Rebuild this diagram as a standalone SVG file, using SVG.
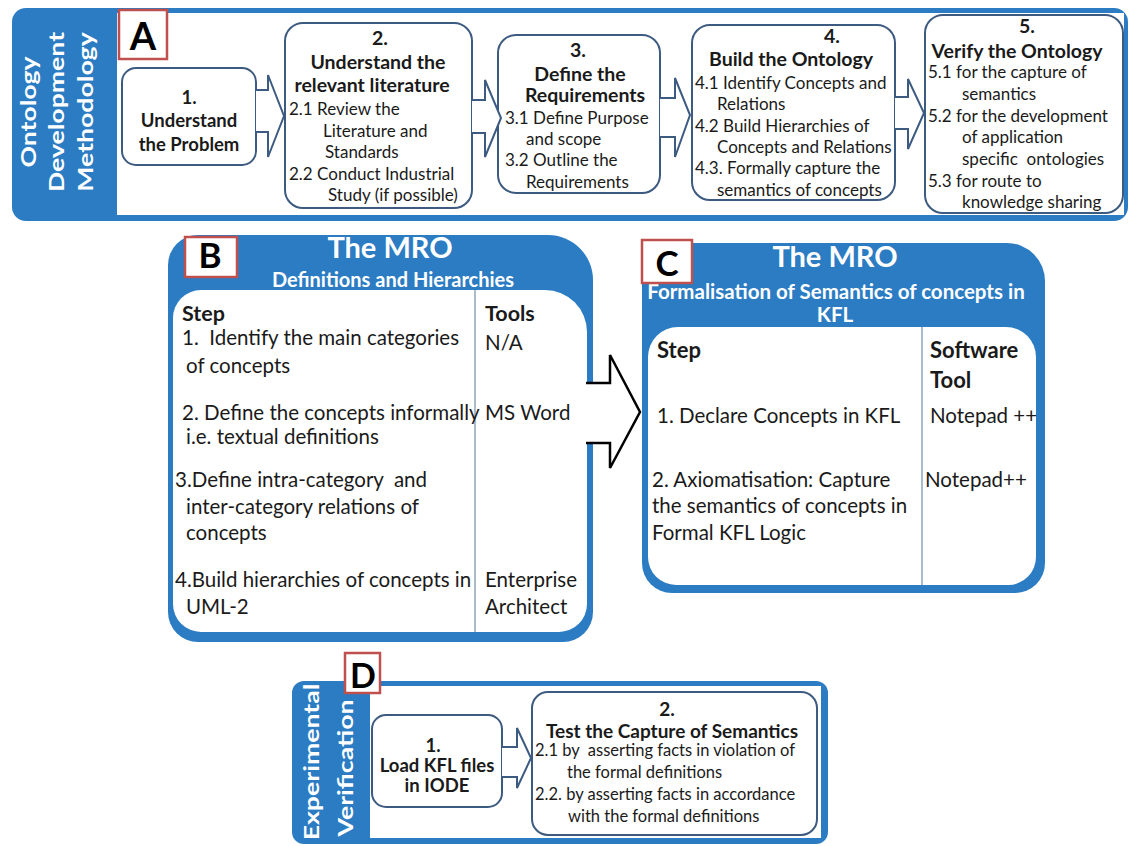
<svg xmlns="http://www.w3.org/2000/svg" width="1131" height="846" viewBox="0 0 1131 846">
<style>
text{font-family:Lato,"Open Sans","Liberation Sans",sans-serif;fill:#1a1a1a}
.blue{fill:#2b7cc3}
.white{fill:#ffffff}
.bx{fill:#ffffff;stroke:#3d5a80;stroke-width:2}
.ar{fill:#ffffff;stroke:#3d5a80;stroke-width:2;stroke-linejoin:miter}
.lbl{fill:#ffffff;stroke:#c0504d;stroke-width:2.5}
.lt{font-weight:700;text-anchor:middle;fill:#000}
.ttl{font-size:19.5px;font-weight:700;text-anchor:middle}
.sa{font-size:17px}
.sb{font-size:20.5px}
.hd{font-size:21.5px;font-weight:700}
.wh{fill:#ffffff;font-weight:700;text-anchor:middle}
.side{fill:#ffffff;font-weight:700;font-size:20.5px;text-anchor:middle}
.div{stroke:#8ea5be;stroke-width:1.5}
.sd{font-size:16.5px}
</style>
<rect width="1131" height="846" fill="#ffffff"/>

<!-- Panel A -->
<g id="panel-a">
  <rect class="blue" x="12" y="8" width="1116" height="213" rx="14"/>
  <rect class="white" x="117" y="13" width="1007" height="202"/>
  <g id="a-sidebar">
    <text class="side" transform="translate(36,112) rotate(-90) scale(1.3,1)">Ontology</text>
    <text class="side" transform="translate(64,112) rotate(-90) scale(1.3,1)">Development</text>
    <text class="side" transform="translate(93,112) rotate(-90) scale(1.3,1)">Methodology</text>
  </g>
  <g id="a-label">
    <rect class="lbl" x="119" y="10" width="48" height="49"/>
    <text class="lt" x="143" y="50" font-size="38">A</text>
  </g>
  <g id="a-step1">
    <rect class="bx" x="122" y="68" width="134" height="97" rx="14"/>
    <text class="ttl" x="189" y="104" style="font-size:18.5px">1.</text>
    <text class="ttl" x="189" y="127" style="font-size:18.5px">Understand</text>
    <text class="ttl" x="189" y="151" style="font-size:18.5px">the Problem</text>
  </g>
  <g id="a-step2">
    <rect class="bx" x="285" y="23" width="187" height="185" rx="18"/>
    <text class="ttl" x="380" y="45">2.</text>
    <text class="ttl" x="378" y="69">Understand the</text>
    <text class="ttl" x="372" y="92">relevant literature</text>
    <text class="sa" x="289" y="115">2.1 Review the</text>
    <text class="sa" x="323" y="137">Literature and</text>
    <text class="sa" x="325" y="158">Standards</text>
    <text class="sa" x="289" y="180">2.2 Conduct Industrial</text>
    <text class="sa" x="328" y="201">Study (if possible)</text>
  </g>
  <g id="a-step3">
    <rect class="bx" x="498" y="35" width="162" height="158" rx="18"/>
    <text class="ttl" x="578" y="57">3.</text>
    <text class="ttl" x="580" y="81">Define the</text>
    <text class="ttl" x="585" y="102">Requirements</text>
    <text class="sa" x="505" y="124">3.1 Define Purpose</text>
    <text class="sa" x="526" y="145">and scope</text>
    <text class="sa" x="505" y="166">3.2 Outline the</text>
    <text class="sa" x="526" y="188">Requirements</text>
  </g>
  <g id="a-step4">
    <rect class="bx" x="692" y="25" width="203" height="175" rx="18"/>
    <text class="ttl" x="832" y="43">4.</text>
    <text class="ttl" x="791" y="66">Build the Ontology</text>
    <text class="sa" x="695" y="89">4.1 Identify Concepts and</text>
    <text class="sa" x="717" y="110">Relations</text>
    <text class="sa" x="695" y="132">4.2 Build Hierarchies of</text>
    <text class="sa" x="717" y="153">Concepts and Relations</text>
    <text class="sa" x="695" y="174">4.3. Formally capture the</text>
    <text class="sa" x="717" y="196">semantics of concepts</text>
  </g>
  <g id="a-step5">
    <rect class="bx" x="925" y="15" width="198" height="198" rx="18"/>
    <text class="ttl" x="1027" y="33">5.</text>
    <text class="ttl" x="1017" y="58">Verify the Ontology</text>
    <text class="sa" x="928" y="78">5.1 for the capture of</text>
    <text class="sa" x="962" y="100">semantics</text>
    <text class="sa" x="928" y="122">5.2 for the development</text>
    <text class="sa" x="962" y="143">of application</text>
    <text class="sa" x="962" y="165" xml:space="preserve">specific  ontologies</text>
    <text class="sa" x="928" y="187">5.3 for route to</text>
    <text class="sa" x="962" y="208">knowledge sharing</text>
  </g>
</g>

<!-- Panel B -->
<g id="panel-b">
  <path class="blue" d="M198,235 H548 A45,45 0 0 1 593,280 V612 A30,30 0 0 1 563,642 H198 A30,30 0 0 1 168,612 V265 A30,30 0 0 1 198,235 Z"/>
  <path class="white" d="M201,290 H545 A42,42 0 0 1 587,332 V604 A28,28 0 0 1 559,632 H201 A28,28 0 0 1 173,604 V318 A28,28 0 0 1 201,290 Z"/>
  <text class="wh" x="390" y="258" font-size="29">The MRO</text>
  <text class="wh" x="393" y="287" font-size="20">Definitions and Hierarchies</text>
  <g id="b-label">
    <rect class="lbl" x="185" y="237" width="52" height="40"/>
    <text class="lt" x="210" y="268" font-size="35">B</text>
  </g>
  <line class="div" x1="475" y1="290" x2="475" y2="632"/>
  <g id="b-table">
    <text class="hd" x="182" y="321">Step</text>
    <text class="hd" x="485" y="321">Tools</text>
    <text class="sb" x="182" y="345" xml:space="preserve">1.  Identify the main categories</text>
    <text class="sb" x="485" y="350">N/A</text>
    <text class="sb" x="186" y="373">of concepts</text>
    <text class="sb" x="182" y="420">2. Define the concepts informally</text>
    <text class="sb" x="485" y="420">MS Word</text>
    <text class="sb" x="186" y="444">i.e. textual definitions</text>
    <text class="sb" x="175" y="487" xml:space="preserve">3.Define intra-category  and</text>
    <text class="sb" x="186" y="514">inter-category relations of</text>
    <text class="sb" x="186" y="540">concepts</text>
    <text class="sb" x="175" y="587">4.Build hierarchies of concepts in</text>
    <text class="sb" x="485" y="587">Enterprise</text>
    <text class="sb" x="186" y="614">UML-2</text>
    <text class="sb" x="485" y="614">Architect</text>
  </g>
</g>

<!-- Panel C -->
<g id="panel-c">
  <path class="blue" d="M662,243 H1007 A38,38 0 0 1 1045,281 V563 A30,30 0 0 1 1015,593 H672 A30,30 0 0 1 642,563 V263 A20,20 0 0 1 662,243 Z"/>
  <path class="white" d="M678,327 H1006 A30,30 0 0 1 1036,357 V557 A28,28 0 0 1 1008,585 H676 A28,28 0 0 1 648,557 V357 A30,30 0 0 1 678,327 Z"/>
  <text class="wh" x="835" y="267" font-size="29">The MRO</text>
  <text class="wh" x="836" y="299" font-size="20.5">Formalisation of Semantics of concepts in</text>
  <text class="wh" x="835" y="322" font-size="20.5">KFL</text>
  <g id="c-label">
    <rect class="lbl" x="642" y="240" width="50" height="43"/>
    <text class="lt" x="667" y="276" font-size="35">C</text>
  </g>
  <line class="div" x1="922" y1="327" x2="922" y2="585"/>
  <g id="c-table">
    <text class="hd" x="657" y="358" style="font-size:22px">Step</text>
    <text class="hd" x="930" y="358" style="font-size:22px">Software</text>
    <text class="hd" x="930" y="388" style="font-size:22px">Tool</text>
    <text class="sb" x="657" y="423">1. Declare Concepts in KFL</text>
    <text class="sb" x="930" y="423">Notepad ++</text>
    <text class="sb" x="652" y="487">2. Axiomatisation: Capture</text>
    <text class="sb" x="652" y="513">the semantics of concepts in</text>
    <text class="sb" x="652" y="540">Formal KFL Logic</text>
    <text class="sb" x="925" y="487">Notepad++</text>
  </g>
</g>

<!-- Panel D -->
<g id="panel-d">
  <rect class="blue" x="292" y="681" width="536" height="163" rx="12"/>
  <rect class="white" x="370" y="686" width="451" height="152"/>
  <g id="d-sidebar">
    <text class="side" transform="translate(319,762) rotate(-90) scale(1.3,1)">Experimental</text>
    <text class="side" transform="translate(353,768) rotate(-90) scale(1.3,1)">Verification</text>
  </g>
  <g id="d-label">
    <rect class="lbl" x="345" y="653" width="35" height="40"/>
    <text class="lt" x="363" y="688" font-size="34">D</text>
  </g>
  <g id="d-step1">
    <rect class="bx" x="372" y="715" width="130" height="92" rx="14"/>
    <text class="ttl" x="433" y="752" style="font-size:18.5px">1.</text>
    <text class="ttl" x="437" y="772" style="font-size:18.5px">Load KFL files</text>
    <text class="ttl" x="437" y="792" style="font-size:18.5px">in IODE</text>
  </g>
  <g id="d-step2">
    <rect class="bx" x="532" y="692" width="285" height="143" rx="16"/>
    <text class="ttl" x="667" y="716" style="font-size:19px">2.</text>
    <text class="ttl" x="672" y="738" style="font-size:19px">Test the Capture of Semantics</text>
    <text class="sd" x="535" y="756" xml:space="preserve">2.1 by  asserting facts in violation of</text>
    <text class="sd" x="567" y="778">the formal definitions</text>
    <text class="sd" x="535" y="800">2.2. by asserting facts in accordance</text>
    <text class="sd" x="568" y="822">with the formal definitions</text>
  </g>
</g>

<!-- Connectors -->
<g id="connectors">
  <path class="ar" d="M256,90 H268 V75 L284,116 L268,157 V132 H256"/>
  <path class="ar" d="M472,100 H485 V80 L501,118 L485,157 V133 H472"/>
  <path class="ar" d="M660,98 H675 V78 L690,115 L675,157 V137 H660"/>
  <path class="ar" d="M895,97 H908 V79 L924,113 L908,149 V129 H895"/>
  <path class="ar" d="M502,747 H517 V728 L531,758 L517,788 V777 H502"/>
  <path fill="#ffffff" d="M582,383 H610 V355 L640,412 L610,468 V443 H582 Z"/>
  <path fill="none" stroke="#000" stroke-width="2.5" stroke-linejoin="miter" d="M586,383 H610 V355 L640,412 L610,468 V443 H586"/>
</g>
</svg>
